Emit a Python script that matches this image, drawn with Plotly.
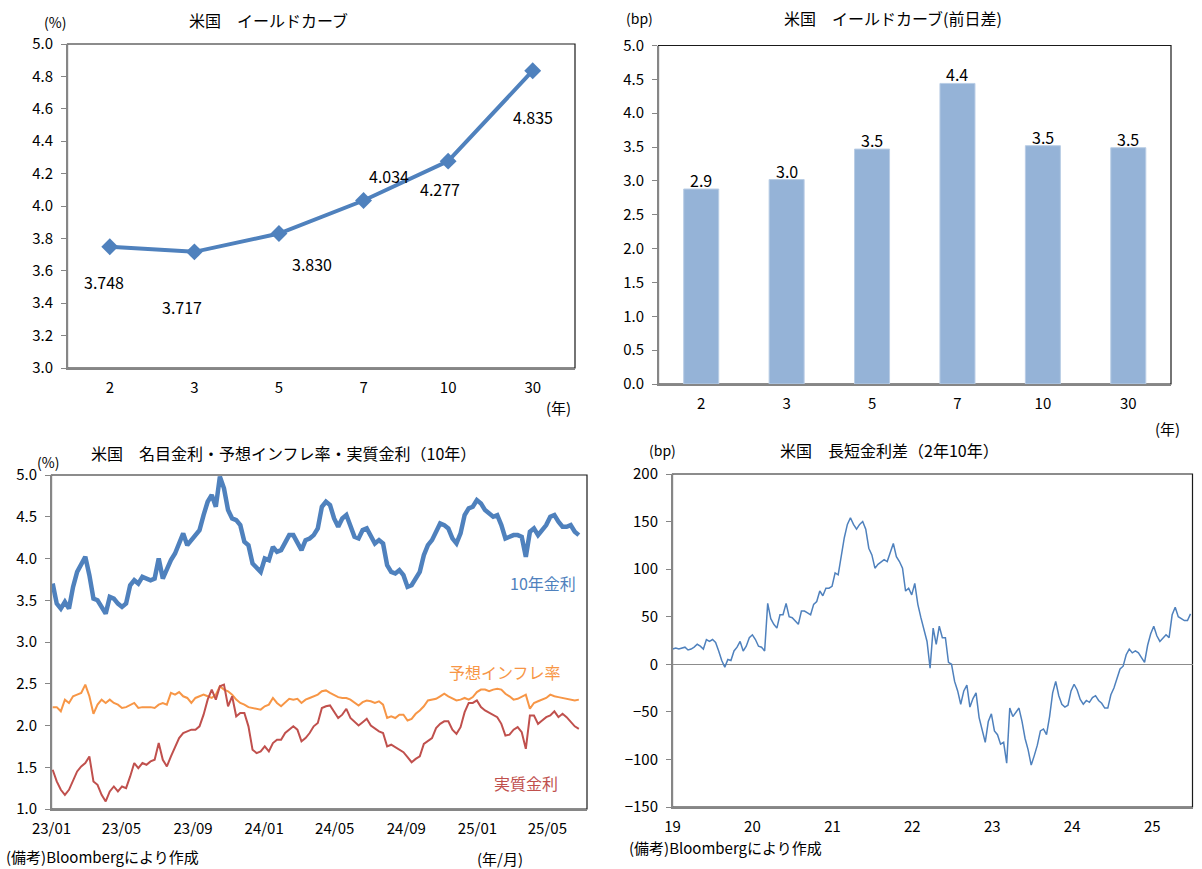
import pandas as pd
import plotly.graph_objects as go

# ---------------- data ----------------
maturities = ["2", "3", "5", "7", "10", "30"]
yields = [3.748, 3.717, 3.830, 4.034, 4.277, 4.835]
daily_change_bp = [2.88, 3.02, 3.47, 4.44, 3.52, 3.49]

weekly_dates = pd.date_range("2023-01-03", periods=130, freq="7D")
nominal_10y = [
    3.70, 3.46, 3.40, 3.48, 3.40, 3.66, 3.84, 3.94, 4.02, 3.80,
    3.52, 3.50, 3.42, 3.34, 3.54, 3.52, 3.46, 3.42, 3.46, 3.68,
    3.74, 3.70, 3.78, 3.76, 3.74, 3.76, 4.00, 3.76, 3.88, 3.98,
    4.06, 4.18, 4.30, 4.16, 4.22, 4.26, 4.34, 4.52, 4.68, 4.76,
    4.62, 4.98, 4.84, 4.58, 4.48, 4.46, 4.40, 4.20, 4.16, 3.94,
    3.88, 3.84, 4.00, 3.98, 4.14, 4.08, 4.10, 4.18, 4.28, 4.28,
    4.20, 4.10, 4.22, 4.24, 4.28, 4.36, 4.62, 4.68, 4.64, 4.48,
    4.38, 4.48, 4.52, 4.40, 4.26, 4.24, 4.34, 4.36, 4.28, 4.18,
    4.22, 4.18, 3.92, 3.84, 3.82, 3.86, 3.80, 3.66, 3.68, 3.76,
    3.84, 4.04, 4.16, 4.22, 4.32, 4.42, 4.40, 4.36, 4.24, 4.18,
    4.30, 4.52, 4.60, 4.62, 4.70, 4.66, 4.58, 4.54, 4.50, 4.52,
    4.40, 4.24, 4.26, 4.28, 4.28, 4.26, 4.02, 4.32, 4.36, 4.28,
    4.34, 4.40, 4.50, 4.52, 4.44, 4.38, 4.38, 4.40, 4.32, 4.28,
]
breakeven_10y = [
    2.22, 2.22, 2.17, 2.31, 2.27, 2.35, 2.37, 2.39, 2.49, 2.35,
    2.14, 2.25, 2.31, 2.27, 2.31, 2.27, 2.25, 2.21, 2.22, 2.25,
    2.27, 2.21, 2.22, 2.22, 2.22, 2.21, 2.25, 2.27, 2.25, 2.39,
    2.37, 2.40, 2.35, 2.33, 2.27, 2.33, 2.35, 2.37, 2.35, 2.33,
    2.37, 2.47, 2.43, 2.41, 2.37, 2.31, 2.27, 2.25, 2.22, 2.21,
    2.20, 2.19, 2.23, 2.25, 2.33, 2.27, 2.23, 2.27, 2.32, 2.31,
    2.32, 2.27, 2.31, 2.33, 2.35, 2.37, 2.41, 2.42, 2.39, 2.36,
    2.34, 2.33, 2.33, 2.31, 2.27, 2.24, 2.28, 2.30, 2.29, 2.27,
    2.29, 2.25, 2.09, 2.11, 2.09, 2.13, 2.13, 2.06, 2.08, 2.14,
    2.18, 2.23, 2.30, 2.31, 2.32, 2.35, 2.38, 2.35, 2.32, 2.30,
    2.31, 2.33, 2.31, 2.34, 2.40, 2.43, 2.43, 2.41, 2.43, 2.44,
    2.43, 2.38, 2.35, 2.31, 2.32, 2.35, 2.37, 2.20, 2.27, 2.29,
    2.31, 2.33, 2.37, 2.35, 2.34, 2.33, 2.32, 2.31, 2.30, 2.31,
]
real_10y = [
    1.47, 1.33, 1.23, 1.17, 1.23, 1.33, 1.45, 1.51, 1.55, 1.63,
    1.33, 1.29, 1.17, 1.09, 1.21, 1.27, 1.21, 1.27, 1.25, 1.39,
    1.55, 1.49, 1.55, 1.53, 1.57, 1.59, 1.79, 1.59, 1.51, 1.63,
    1.73, 1.85, 1.91, 1.93, 1.95, 1.95, 1.99, 2.13, 2.31, 2.43,
    2.31, 2.47, 2.49, 2.23, 2.35, 2.11, 2.15, 2.15, 1.99, 1.71,
    1.67, 1.69, 1.75, 1.69, 1.79, 1.83, 1.83, 1.91, 1.95, 1.99,
    1.95, 1.81, 1.85, 1.91, 1.99, 2.03, 2.21, 2.23, 2.24, 2.17,
    2.09, 2.13, 2.20, 2.09, 2.04, 2.00, 2.04, 2.08, 2.00, 1.96,
    1.93, 1.91, 1.75, 1.77, 1.74, 1.71, 1.68, 1.62, 1.56, 1.60,
    1.63, 1.78, 1.82, 1.85, 1.97, 2.02, 2.05, 2.05, 1.95, 1.90,
    1.98, 2.16, 2.27, 2.27, 2.30, 2.22, 2.18, 2.15, 2.12, 2.10,
    2.02, 1.88, 1.89, 1.95, 1.98, 1.92, 1.72, 2.12, 2.12, 2.02,
    2.06, 2.10, 2.12, 2.17, 2.10, 2.14, 2.10, 2.04, 1.99, 1.96,
]

spread_dates = pd.date_range("2019-01-02", periods=170, freq="14D")
spread_2s10s_bp = [
    16, 17, 16, 17, 18, 15, 16, 18, 21, 19,
    16, 26, 24, 26, 23, 14, 4, -3, 5, 4,
    14, 18, 24, 14, 19, 28, 31, 26, 19, 18,
    14, 64, 48, 42, 38, 52, 52, 64, 50, 49,
    45, 42, 56, 56, 54, 52, 63, 66, 77, 72,
    80, 80, 82, 96, 94, 115, 133, 147, 154, 147,
    142, 147, 150, 142, 122, 115, 101, 105, 108, 110,
    108, 117, 127, 113, 108, 101, 77, 80, 73, 85,
    63, 49, 35, 24, -4, 38, 21, 40, 28, 28,
    2, 0, -18, -28, -42, -28, -22, -45, -36, -30,
    -56, -70, -82, -60, -52, -70, -74, -84, -82, -104,
    -46, -55, -50, -46, -60, -78, -90, -106, -96, -85,
    -70, -68, -74, -55, -30, -18, -33, -42, -45, -43,
    -28, -21, -27, -37, -42, -38, -40, -35, -33, -38,
    -41, -46, -46, -32, -25, -15, -5, -2, 10, 16,
    12, 14, 12, 7, 2, 20, 32, 40, 30, 24,
    28, 31, 28, 52, 60, 50, 48, 46, 46, 53,
]

bl_tick_dates = ["2023-01-01", "2023-05-01", "2023-09-01", "2024-01-01",
                 "2024-05-01", "2024-09-01", "2025-01-01", "2025-05-01"]
bl_tick_text = ["23/01", "23/05", "23/09", "24/01", "24/05", "24/09", "25/01", "25/05"]
br_tick_dates = ["2019-01-01", "2020-01-01", "2021-01-01", "2022-01-01",
                 "2023-01-01", "2024-01-01", "2025-01-01"]
br_tick_text = ["19", "20", "21", "22", "23", "24", "25"]

# ---------------- styling ----------------
W, H = 1202, 869
FONT = "Noto Sans CJK JP"
BLUE = "#4F81BD"
ORANGE = "#F79646"
RED = "#C0504D"
BARC = "#95B3D7"
AXC = "#868686"


def px_x(x):
    return x / W


def px_y(y):
    return 1 - y / H


fig = go.Figure()
cat_idx = list(range(len(maturities)))

fig.add_trace(go.Scatter(
    x=cat_idx, y=yields, mode="lines+markers", xaxis="x", yaxis="y",
    line=dict(color=BLUE, width=4), marker=dict(symbol="diamond", size=13, color=BLUE),
    showlegend=False, hoverinfo="skip"))

fig.add_trace(go.Bar(
    x=cat_idx, y=daily_change_bp, xaxis="x2", yaxis="y2",
    marker=dict(color=BARC, line=dict(color="#B9CDE5", width=1)), width=0.41,
    showlegend=False, hoverinfo="skip"))

fig.add_trace(go.Scatter(
    x=weekly_dates, y=nominal_10y, mode="lines", xaxis="x3", yaxis="y3",
    line=dict(color=BLUE, width=4.5), showlegend=False, hoverinfo="skip"))
fig.add_trace(go.Scatter(
    x=weekly_dates, y=breakeven_10y, mode="lines", xaxis="x3", yaxis="y3",
    line=dict(color=ORANGE, width=2), showlegend=False, hoverinfo="skip"))
fig.add_trace(go.Scatter(
    x=weekly_dates, y=real_10y, mode="lines", xaxis="x3", yaxis="y3",
    line=dict(color=RED, width=2), showlegend=False, hoverinfo="skip"))

fig.add_trace(go.Scatter(
    x=spread_dates, y=spread_2s10s_bp, mode="lines", xaxis="x4", yaxis="y4",
    line=dict(color=BLUE, width=1.5), showlegend=False, hoverinfo="skip"))

tickfont = dict(family=FONT, size=15, color="black")


def yax(domain, rng, dtick, fmt, anchor):
    return dict(domain=domain, range=rng, dtick=dtick, tickformat=fmt, anchor=anchor,
                automargin=False, showgrid=False, zeroline=False, showline=True,
                linecolor=AXC, linewidth=1.5, ticks="outside", ticklen=5, tickcolor=AXC,
                ticklabelstandoff=5, tickfont=tickfont, fixedrange=True)


def xax(domain, anchor, **kw):
    d = dict(domain=domain, anchor=anchor, automargin=False, showgrid=False, zeroline=False,
             showline=True, linecolor=AXC, linewidth=1.5, ticks="", ticklabelstandoff=5,
             tickfont=tickfont, fixedrange=True)
    d.update(kw)
    return d


d1x = [px_x(67.5), px_x(575)];  d1y = [px_y(368), px_y(44)]
d2x = [px_x(658.5), px_x(1171)]; d2y = [px_y(384), px_y(45.5)]
d3x = [px_x(51.5), px_x(587)];  d3y = [px_y(809), px_y(475)]
d4x = [px_x(672.5), px_x(1192.5)]; d4y = [px_y(807), px_y(474)]

cat_axis = dict(tickmode="array", tickvals=cat_idx, ticktext=maturities, range=[-0.5, 5.5])

layout = dict(
    template="none",
    width=W, height=H, paper_bgcolor="white", plot_bgcolor="white",
    margin=dict(l=0, r=0, t=0, b=0, pad=0), showlegend=False,
    font=dict(family=FONT, color="black"),
    xaxis=xax(d1x, "y", **cat_axis),
    yaxis=yax(d1y, [3.0, 5.0], 0.2, ".1f", "x"),
    xaxis2=xax(d2x, "y2", **cat_axis),
    yaxis2=yax(d2y, [0, 5.0], 0.5, ".1f", "x2"),
    xaxis3=xax(d3x, "y3", type="date", range=["2023-01-01", "2025-07-08"],
               tickmode="array", tickvals=bl_tick_dates, ticktext=bl_tick_text),
    yaxis3=yax(d3y, [1.0, 5.0], 0.5, ".1f", "x3"),
    xaxis4=xax(d4x, "y4", type="date", range=["2019-01-01", "2025-07-04"],
               tickmode="array", tickvals=br_tick_dates, ticktext=br_tick_text),
    yaxis4=yax(d4y, [-150, 200], 50, "d", "x4"),
)
layout["yaxis4"].update(zeroline=True, zerolinecolor="#8C8C8C", zerolinewidth=1.5)
fig.update_layout(**layout)

# plot-area frames
for xr, yr in [("x", "y"), ("x2", "y2"), ("x3", "y3"), ("x4", "y4")]:
    fig.add_shape(type="rect", xref=f"{xr} domain", yref=f"{yr} domain",
                  x0=0, x1=1, y0=0, y1=1, line=dict(color="#1a1a1a", width=1.2),
                  fillcolor="rgba(0,0,0,0)", layer="below")

# data labels for the yield curve
label_offsets = [(-6, -35), (-12, -55), (33, -30), (25, 24), (-8, -28), (0, -46)]
for i, v, (dx, dy) in zip(cat_idx, yields, label_offsets):
    fig.add_annotation(x=i, y=v, xref="x", yref="y", text=f"{v:.3f}", showarrow=False,
                       xshift=dx, yshift=dy, font=dict(family=FONT, size=16, color="black"))

# data labels for the bars (sitting on the bar tops)
for i, v in zip(cat_idx, daily_change_bp):
    fig.add_annotation(x=i, y=v, xref="x2", yref="y2", text=f"{v:.1f}", showarrow=False,
                       yanchor="middle", yshift=9,
                       font=dict(family=FONT, size=16, color="black"))


def text(x, y, s, size=16, color="black", xanchor="center"):
    fig.add_annotation(x=px_x(x), y=px_y(y), xref="paper", yref="paper", text=s,
                       showarrow=False, xanchor=xanchor, yanchor="middle",
                       font=dict(family=FONT, size=size, color=color))


text(268, 20, "米国　イールドカーブ")
text(55, 22, "(%)", 14)
text(558, 407, "(年)", 15)

text(893, 18, "米国　イールドカーブ(前日差)")
text(639, 18, "(bp)", 14)
text(1167, 428, "(年)", 15)

text(283, 453, "米国　名目金利・予想インフレ率・実質金利（10年）")
text(48, 462, "(%)", 14)
text(543, 583, "10年金利", 16, BLUE)
text(505, 672, "予想インフレ率", 16, ORANGE)
text(526, 783, "実質金利", 16, RED)
text(4, 856, "(備考)Bloombergにより作成", 15, xanchor="left")
text(500, 858, "(年/月)", 15)

text(889, 450, "米国　長短金利差（2年10年）")
text(662, 450, "(bp)", 14)
text(627, 847, "(備考)Bloombergにより作成", 15, xanchor="left")

# remove the browser's default page margin so the figure sits at the window origin
fig.write_html("out.html", config={"displayModeBar": False, "staticPlot": True},
               post_script="document.body.style.margin='0';")
